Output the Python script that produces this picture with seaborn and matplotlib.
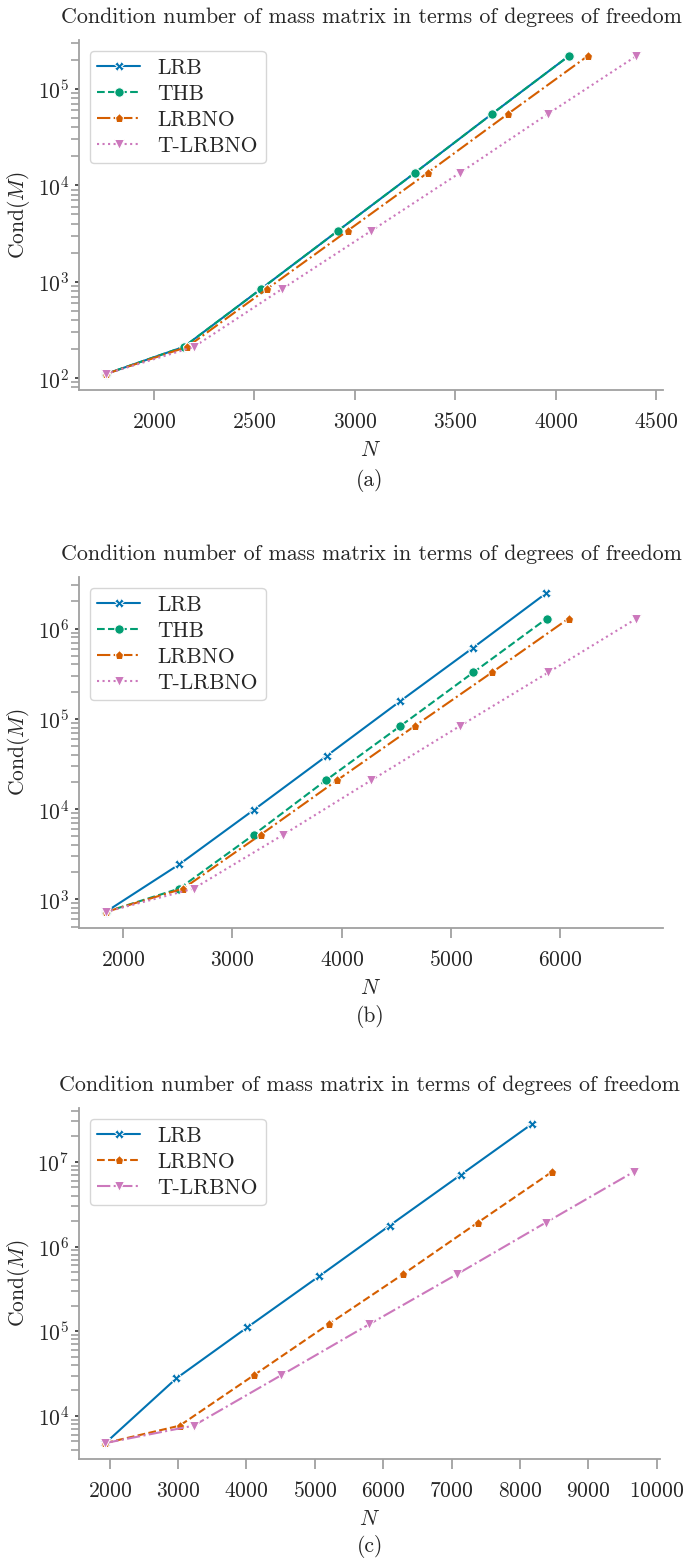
"""
Condition number of the mass matrix versus degrees of freedom, three cases.
Writes out.png.
"""

import matplotlib
matplotlib.use("Agg")
import matplotlib.pyplot as plt
import pandas as pd
import seaborn as sns
from matplotlib.ticker import LogLocator, NullFormatter

sns.set_theme(style="ticks", palette="colorblind")
FS = 15.5
plt.rcParams.update({
    "font.family": ["cmr10", "DejaVu Serif"],
    "mathtext.fontset": "cm",
    "axes.formatter.use_mathtext": True,
    "axes.unicode_minus": False,
    "font.size": FS,
    "axes.titlesize": 15.8,
    "axes.labelsize": FS,
    "xtick.labelsize": FS,
    "ytick.labelsize": FS,
    "legend.fontsize": FS,
})

TITLE = "Condition number of mass matrix in terms of degrees of freedom"

# (a)
a_lrb_n = [1760, 2150, 2535, 2917, 3300, 3683, 4066]
a_thb_n = [1760, 2150, 2535, 2917, 3300, 3683, 4066]
a_lrbno_n = [1760, 2167, 2565, 2965, 3363, 3762, 4160]
a_tlrbno_n = [1760, 2200, 2640, 3083, 3524, 3961, 4402]
a_cond = [110, 211, 845, 3380, 13500, 55000, 220000]

# (b)
b_lrb_n = [1840, 2515, 3195, 3865, 4536, 5204, 5874]
b_lrb_cond = [723, 2443, 9770, 39000, 157000, 615000, 2480000]
b_thb_n = [1840, 2514, 3195, 3855, 4536, 5204, 5876]
b_lrbno_n = [1840, 2550, 3258, 3957, 4667, 5374, 6076]
b_tlrbno_n = [1840, 2645, 3465, 4269, 5080, 5890, 6697]
b_cond = [723, 1315, 5190, 20800, 83000, 326000, 1290000]

# (c)
c_lrb_n = [1937, 2973, 4010, 5058, 6095, 7138, 8175]
c_lrb_cond = [4785, 27700, 110800, 443000, 1770000, 7060000, 28000000]
c_lrbno_n = [1937, 3022, 4110, 5200, 6295, 7380, 8466]
c_tlrbno_n = [1937, 3226, 4510, 5797, 7085, 8374, 9662]
c_cond = [4785, 7670, 30300, 121000, 474000, 1910000, 7600000]

pal = sns.color_palette("colorblind")
BLUE, GREEN, RED, PINK = pal[0], pal[2], pal[3], pal[4]


def panel(ax, series, caption, cap_y, fig):
    for label, n, cond, color, ls, mk in series:
        df = pd.DataFrame({"N": n, "cond": cond})
        sns.lineplot(data=df, x="N", y="cond", ax=ax, color=color, linestyle=ls,
                     marker=mk, markersize=6.8, linewidth=1.5, label=label,
                     sort=False, estimator=None)
    ax.set_yscale("log")
    ax.yaxis.set_minor_locator(LogLocator(base=10, subs=range(2, 10)))
    ax.yaxis.set_minor_formatter(NullFormatter())
    ax.set_title(TITLE, pad=12)
    ax.set_xlabel("$N$", labelpad=6)
    ax.set_ylabel("Cond$(M)$", labelpad=4)
    for s in ("left", "bottom"):
        ax.spines[s].set_color("#a0a0a0")
        ax.spines[s].set_linewidth(1.3)
    ax.tick_params(axis="x", which="major", length=7, width=1.3, color="#a0a0a0", pad=9)
    ax.tick_params(axis="y", which="major", length=3, width=1.2, color="#333333", pad=4)
    ax.tick_params(axis="y", which="minor", length=6, width=1.2, color="#a0a0a0")
    sns.despine(ax=ax)
    ax.legend(loc="upper left", handlelength=2.0, borderpad=0.35, labelspacing=0.3)
    fig.text(0.54, cap_y, caption, ha="center", va="center", fontsize=FS)


fig = plt.figure(figsize=(6.85, 15.61), dpi=100)
W, H = 685, 1561


def add_axes(left, top, right, bottom):
    return fig.add_axes([left / W, 1 - bottom / H, (right - left) / W, (bottom - top) / H])


ax_a = add_axes(79, 40, 663, 390)
ax_b = add_axes(79, 577, 663, 928)
ax_c = add_axes(79, 1108, 660, 1459)

panel(ax_a, [
    ("LRB", a_lrb_n, a_cond, BLUE, "-", "X"),
    ("THB", a_thb_n, a_cond, GREEN, "--", "o"),
    ("LRBNO", a_lrbno_n, a_cond, RED, "-.", "p"),
    ("T-LRBNO", a_tlrbno_n, a_cond, PINK, ":", "v"),
], "(a)", 1 - 480 / H, fig)

panel(ax_b, [
    ("LRB", b_lrb_n, b_lrb_cond, BLUE, "-", "X"),
    ("THB", b_thb_n, b_cond, GREEN, "--", "o"),
    ("LRBNO", b_lrbno_n, b_cond, RED, "-.", "p"),
    ("T-LRBNO", b_tlrbno_n, b_cond, PINK, ":", "v"),
], "(b)", 1 - 1017 / H, fig)

panel(ax_c, [
    ("LRB", c_lrb_n, c_lrb_cond, BLUE, "-", "X"),
    ("LRBNO", c_lrbno_n, c_cond, RED, "--", "p"),
    ("T-LRBNO", c_tlrbno_n, c_cond, PINK, "-.", "v"),
], "(c)", 1 - 1547 / H, fig)

ax_a.set_xticks([2000, 2500, 3000, 3500, 4000, 4500])
ax_c.set_xticks(range(2000, 10001, 1000))

fig.savefig("out.png", dpi=100)
